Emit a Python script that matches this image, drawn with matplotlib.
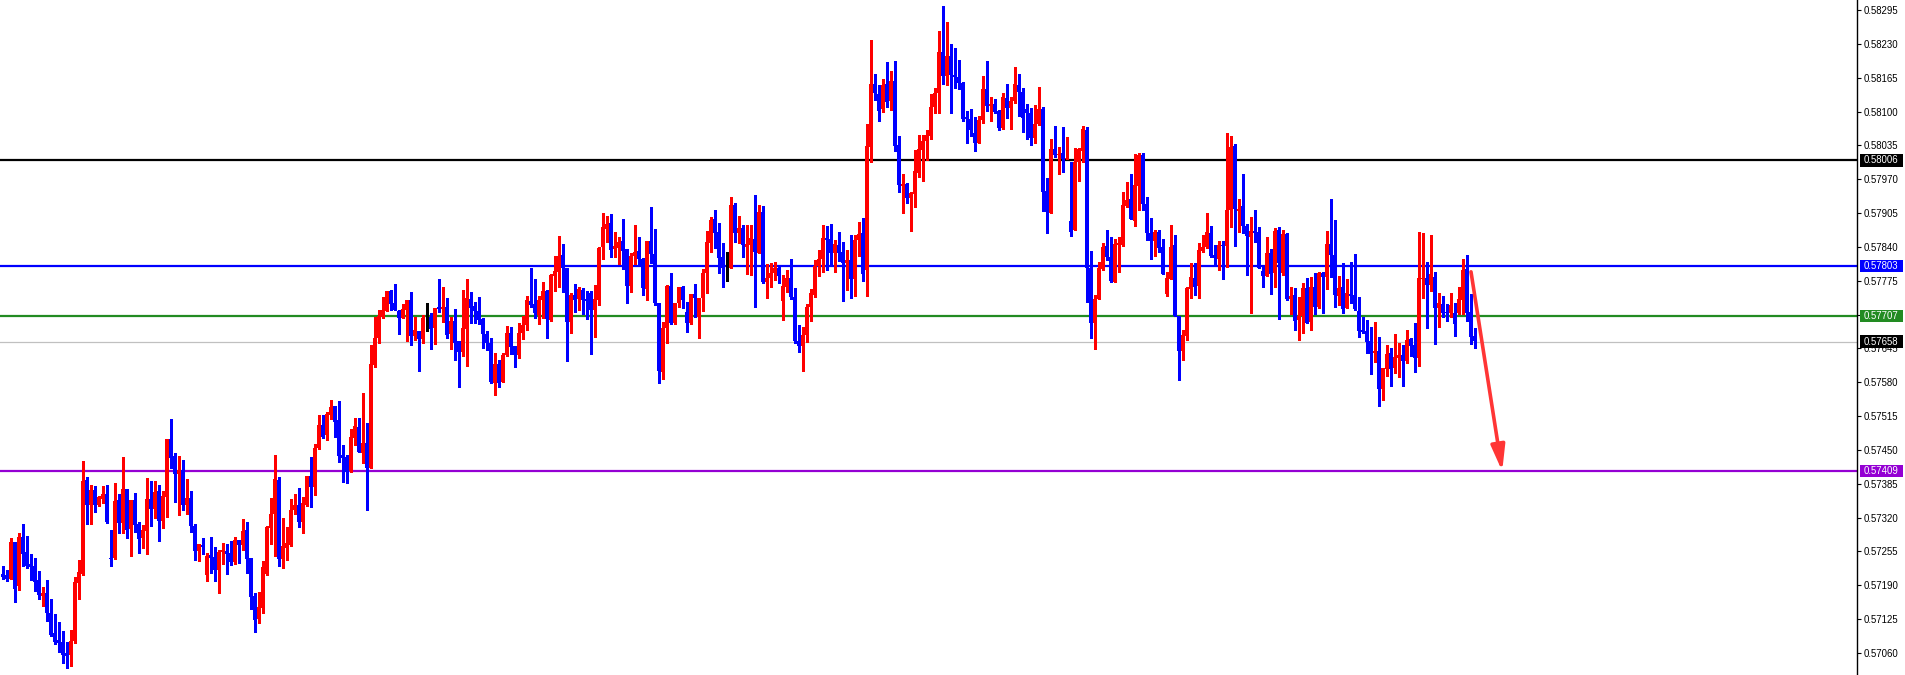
import numpy as np
import matplotlib
matplotlib.use("Agg")
import matplotlib.pyplot as plt
from matplotlib.patches import Rectangle
import matplotlib.transforms as mtransforms

# ---- OHLC data (price in 1e-5 units) ----
opens_pts = [
57211,57209,57202,57273,57188,57283,57254,57231,57227,57200,57169,57175,57136,57098,57085,57081,57060,57056,57083,57194,
57211,57392,57344,57373,57344,57356,57365,57242,57242,57354,57309,57375,57298,57354,57307,57281,57294,57356,57336,57371,
57313,57359,57471,57438,57403,57411,57344,57357,57303,57256,57267,57209,57248,57244,57219,57254,57256,57252,57234,57277,
57267,57296,57242,57169,57125,57146,57211,57300,57327,57392,57240,57261,57267,57334,57344,57311,57344,57400,57379,57454,
57498,57479,57517,57534,57507,57440,57436,57409,57473,57494,57444,57463,57415,57613,57665,57705,57717,57755,57732,57717,
57703,57719,57738,57669,57678,57663,57703,57705,57684,57724,57721,57724,57672,57697,57659,57638,57682,57740,57726,57717,
57701,57672,57655,57578,57615,57580,57632,57674,57649,57632,57674,57690,57736,57730,57709,57738,57755,57699,57784,57792,
57825,57799,57696,57748,57740,57757,57740,57751,57719,57738,57840,57874,57886,57836,57838,57851,57836,57765,57823,57832,
57817,57759,57851,57826,57732,57599,57684,57765,57694,57732,57763,57715,57694,57749,57705,57742,57790,57847,57893,57868,
57821,57801,57799,57920,57866,57876,57840,57843,57855,57828,57907,57772,57780,57790,57799,57736,57763,57780,57744,57659,
57649,57671,57724,57748,57803,57817,57857,57855,57828,57843,57830,57809,57815,57778,57853,57866,57796,58032,58153,58134,
58105,58153,58120,58159,58036,57957,57961,57934,57941,57982,58026,58043,58053,58109,58136,58214,58168,58207,58170,58166,
58155,58089,58085,58059,58039,58084,58143,58111,58115,58101,58068,58126,58107,58120,58151,58138,58105,58097,58049,58076,
58105,57947,57905,58028,58016,58020,58009,57890,57872,58003,58024,58064,57799,57694,57740,57797,57842,57821,57772,57843,
57843,57918,57932,57890,57957,58016,57922,57866,57851,57868,57840,57749,57778,57843,57708,57640,57669,57759,57780,57765,
57832,57840,57866,57825,57817,57843,57842,57911,58034,57909,57918,57880,57859,57870,57868,57794,57784,57828,57790,57872,
57790,57865,57740,57748,57699,57707,57761,57696,57763,57724,57790,57782,57845,57825,57746,57763,57723,57749,57748,57717,
57680,57678,57659,57636,57640,57567,57605,57636,57607,57626,57632,57621,57663,57651,57626,57778,57780,57767,57782,57723,
57730,57715,57713,57713,57713,57738,57797,57715,57669]

highs_pts = [
57227,57219,57281,57273,57290,57307,57284,57250,57242,57217,57186,57200,57163,57134,57119,57102,57081,57104,57206,57238,
57429,57398,57383,57381,57361,57381,57383,57296,57386,57365,57436,57375,57354,57367,57311,57306,57396,57390,57390,57383,
57371,57471,57509,57444,57438,57431,57394,57371,57307,57269,57281,57252,57283,57263,57258,57271,57269,57275,57283,57277,
57317,57311,57242,57175,57177,57236,57303,57357,57440,57398,57319,57302,57356,57365,57377,57359,57400,57436,57461,57517,
57517,57523,57546,57534,57544,57459,57440,57490,57511,57511,57559,57502,57651,57705,57719,57744,57755,57757,57769,57719,
57730,57738,57753,57705,57678,57709,57732,57713,57723,57778,57763,57742,57705,57721,57659,57757,57778,57753,57734,57744,
57703,57678,57665,57636,57623,57636,57688,57686,57649,57694,57707,57746,57799,57778,57746,57772,57757,57788,57823,57861,
57846,57799,57751,57769,57763,57761,57755,57755,57767,57840,57905,57899,57903,57869,57859,57893,57836,57828,57882,57859,
57819,57851,57916,57874,57732,57696,57767,57790,57732,57763,57765,57734,57749,57769,57742,57797,57870,57897,57911,57886,
57847,57830,57936,57924,57899,57882,57882,57882,57939,57920,57918,57807,57809,57811,57801,57786,57796,57817,57761,57690,
57686,57730,57759,57815,57834,57882,57880,57884,57853,57869,57849,57834,57863,57863,57888,57895,58076,58237,58172,58151,
58163,58195,58178,58197,58053,57980,57963,57945,58026,58055,58055,58064,58134,58145,58255,58303,58272,58230,58222,58199,
58157,58101,58105,58089,58091,58168,58197,58128,58124,58103,58136,58153,58128,58186,58172,58145,58115,58107,58113,58147,
58109,57972,58047,58072,58032,58070,58051,58003,58030,58030,58072,58070,57832,57748,57811,57847,57872,57859,57855,57859,
57945,57965,57980,58018,58020,58020,57936,57895,57872,57872,57855,57792,57882,57863,57708,57680,57763,57809,57809,57847,
57863,57905,57880,57843,57851,57851,58059,58053,58038,57932,57980,57884,57897,57911,57878,57801,57859,57836,57876,57878,
57872,57866,57763,57761,57744,57771,57780,57782,57790,57792,57792,57870,57932,57892,57784,57809,57778,57811,57826,57744,
57705,57699,57686,57696,57667,57607,57651,57646,57672,57655,57651,57680,57665,57694,57868,57866,57811,57863,57792,57751,
57746,57730,57751,57732,57763,57817,57824,57749,57684]

lows_pts = [
57202,57198,57202,57157,57181,57227,57223,57200,57179,57163,57150,57121,57092,57077,57062,57040,57031,57034,57079,57163,
57209,57307,57307,57330,57342,57348,57309,57227,57240,57290,57290,57281,57246,57292,57252,57261,57250,57303,57319,57275,
57300,57321,57415,57350,57325,57334,57327,57292,57238,57236,57250,57198,57213,57198,57175,57231,57211,57229,57231,57232,
57258,57213,57144,57100,57117,57136,57209,57269,57246,57227,57223,57238,57265,57327,57302,57290,57342,57340,57363,57452,
57473,57469,57509,57475,57427,57388,57386,57407,57459,57446,57425,57334,57415,57609,57655,57703,57717,57719,57719,57672,
57703,57659,57651,57661,57601,57655,57678,57644,57653,57715,57696,57665,57644,57623,57571,57630,57611,57694,57694,57692,
57646,57642,57578,57555,57571,57580,57630,57634,57609,57626,57663,57680,57724,57703,57692,57703,57665,57697,57755,57763,
57753,57621,57674,57715,57719,57711,57701,57634,57667,57728,57817,57849,57820,57820,57807,57797,57732,57753,57807,57807,
57748,57738,57809,57728,57578,57586,57655,57692,57692,57724,57723,57676,57692,57705,57665,57717,57751,57830,57838,57790,
57763,57774,57799,57849,57847,57820,57788,57786,57724,57828,57770,57742,57763,57776,57770,57699,57753,57740,57655,57638,
57601,57657,57697,57744,57784,57792,57796,57805,57792,57813,57736,57757,57742,57746,57823,57774,57746,58003,58122,58082,
58099,58109,58103,58024,57945,57905,57924,57870,57916,57974,57966,58007,58047,58097,58097,58153,58150,58097,58145,58143,
58082,58040,58053,58024,58039,58078,58101,58082,58097,58064,58066,58088,58066,58116,58091,58060,58047,58036,58040,58074,
57909,57866,57905,58013,57980,57984,58009,57861,57872,57966,58003,57734,57665,57644,57740,57796,57815,57772,57772,57792,
57842,57916,57893,57880,57911,57911,57853,57817,57823,57830,57788,57746,57778,57708,57584,57623,57661,57742,57748,57742,
57830,57838,57821,57805,57796,57778,57801,57878,57842,57868,57866,57786,57713,57849,57799,57763,57784,57749,57763,57701,
57786,57738,57711,57680,57661,57674,57694,57680,57711,57723,57713,57759,57782,57724,57728,57713,57723,57732,57719,57667,
57674,57636,57595,57619,57534,57546,57592,57573,57598,57590,57573,57617,57630,57599,57611,57742,57684,57755,57653,57686,
57705,57697,57705,57669,57711,57711,57697,57653,57646]

closes_pts = [
57205,57202,57273,57183,57283,57250,57227,57225,57196,57171,57175,57136,57094,57081,57079,57056,57054,57083,57196,57215,
57390,57344,57373,57344,57359,57365,57311,57240,57352,57309,57375,57296,57354,57306,57279,57296,57356,57336,57369,57313,
57361,57471,57434,57403,57411,57344,57357,57303,57256,57269,57263,57246,57242,57219,57254,57258,57250,57234,57277,57267,
57294,57240,57167,57123,57148,57225,57302,57327,57394,57240,57265,57271,57334,57344,57311,57348,57400,57379,57454,57498,
57475,57519,57532,57504,57438,57434,57407,57475,57496,57446,57463,57415,57615,57665,57707,57719,57755,57730,57719,57703,
57721,57738,57669,57680,57663,57703,57703,57682,57723,57721,57724,57671,57697,57655,57638,57684,57742,57723,57717,57699,
57672,57655,57580,57615,57578,57632,57674,57647,57632,57674,57690,57738,57728,57713,57738,57755,57701,57786,57794,57823,
57799,57696,57748,57738,57759,57738,57736,57719,57740,57838,57878,57884,57834,57842,57849,57832,57765,57823,57830,57817,
57761,57851,57826,57732,57601,57684,57765,57694,57732,57763,57738,57694,57749,57742,57742,57790,57849,57892,57866,57819,
57799,57801,57920,57866,57876,57843,57845,57857,57830,57907,57772,57780,57790,57799,57784,57765,57780,57744,57659,57649,
57671,57724,57751,57803,57817,57857,57853,57828,57845,57828,57809,57815,57778,57853,57865,57788,58034,58153,58136,58101,
58151,58118,58159,58034,57959,57961,57934,57943,57986,58028,58043,58055,58109,58136,58214,58168,58207,58170,58166,58155,
58085,58085,58064,58039,58084,58143,58111,58115,58099,58068,58128,58107,58120,58153,58138,58088,58097,58049,58076,58105,
57945,57907,58028,58016,58018,58009,58011,57869,58003,58028,58066,57799,57694,57740,57799,57840,57821,57774,57845,57847,
57920,57930,57893,57959,58016,57922,57866,57851,57868,57838,57788,57780,57840,57708,57640,57671,57761,57782,57763,57834,
57840,57868,57823,57819,57843,57842,57911,58032,57913,57913,57880,57861,57870,57866,57799,57784,57828,57788,57870,57809,
57865,57740,57745,57697,57707,57761,57694,57763,57724,57790,57782,57845,57825,57748,57761,57721,57751,57745,57721,57678,
57676,57657,57634,57640,57567,57607,57634,57605,57628,57632,57621,57661,57649,57626,57780,57781,57767,57788,57723,57732,
57713,57713,57728,57692,57740,57796,57713,57667,57659]

price_ticks = [0.58295, 0.58230, 0.58165, 0.58100, 0.58035, 0.57970, 0.57905, 0.57840,
               0.57775, 0.57710, 0.57645, 0.57580, 0.57515, 0.57450, 0.57385, 0.57320,
               0.57255, 0.57190, 0.57125, 0.57060]

level_prices = [0.58006, 0.57803, 0.57707, 0.57409]
level_colors = ["#000000", "#0000ff", "#228b22", "#9400d3"]
current_price = 0.57658

arrow_start = (367.0, 0.57792)
arrow_end = (374.8, 0.57409)

# ---- build ----
o = np.array(opens_pts) / 1e5
h = np.array(highs_pts) / 1e5
l = np.array(lows_pts) / 1e5
c = np.array(closes_pts) / 1e5
idx = np.arange(len(c))

W, H = 1905, 675
fig = plt.figure(figsize=(W / 100, H / 100), dpi=100)
fig.patch.set_facecolor("white")
ax = fig.add_axes([0, 0, 1857 / W, 1])
ax.set_xlim(-0.75, 463.5)
ax.set_ylim(0.570175, 0.583142)

colors = np.where(c > o, "#ff0000", np.where(c < o, "#0000ff", "#000000"))
ax.vlines(idx, l, h, colors=colors, linewidth=1.0, zorder=3, antialiased=False)
bottom = np.minimum(o, c)
height = np.maximum(np.abs(c - o), 0.000012)
ax.bar(idx, height, bottom=bottom, width=0.78, color=colors, linewidth=0,
       zorder=3, antialiased=False)

# horizontal levels
ax.axhline(current_price, color="#c0c0c0", lw=0.9, zorder=2)
for p, col in zip(level_prices, level_colors):
    ax.axhline(p, color=col, lw=1.6, zorder=2)

# arrow
ax.annotate("", xy=arrow_end, xytext=arrow_start,
            arrowprops=dict(arrowstyle="-|>,head_length=1.1,head_width=0.3",
                            color="#ff3535", lw=2.6, shrinkA=0, shrinkB=0,
                            mutation_scale=14), zorder=4)

# axes styling
for s in ["left", "top", "bottom"]:
    ax.spines[s].set_visible(False)
ax.spines["right"].set_color("black")
ax.spines["right"].set_linewidth(1.0)
ax.set_xticks([])
ax.yaxis.tick_right()
ax.set_yticks(price_ticks)
ax.set_yticklabels([f"{t:.5f}" for t in price_ticks],
                   fontfamily="Liberation Sans", fontsize=6.9)
ax.tick_params(axis="y", direction="out", length=3, width=0.8, pad=2, colors="black")

# price labels on axis
trans = mtransforms.blended_transform_factory(ax.transAxes, ax.transData)
x0 = 1860 / 1857
x1 = 1903 / 1857
box_h = 0.00024
def price_label(p, bg):
    ax.add_patch(Rectangle((x0, p - box_h / 2), x1 - x0, box_h, transform=trans,
                           facecolor=bg, edgecolor="none", clip_on=False, zorder=10))
    ax.text(1864 / 1857, p, f"{p:.5f}", transform=trans, color="white",
            fontfamily="Liberation Sans", fontsize=6.9, va="center", ha="left",
            clip_on=False, zorder=11)

for p, col in zip(level_prices, level_colors):
    price_label(p, col)
price_label(current_price, "#000000")

fig.savefig("out.png", dpi=100, facecolor="white")
